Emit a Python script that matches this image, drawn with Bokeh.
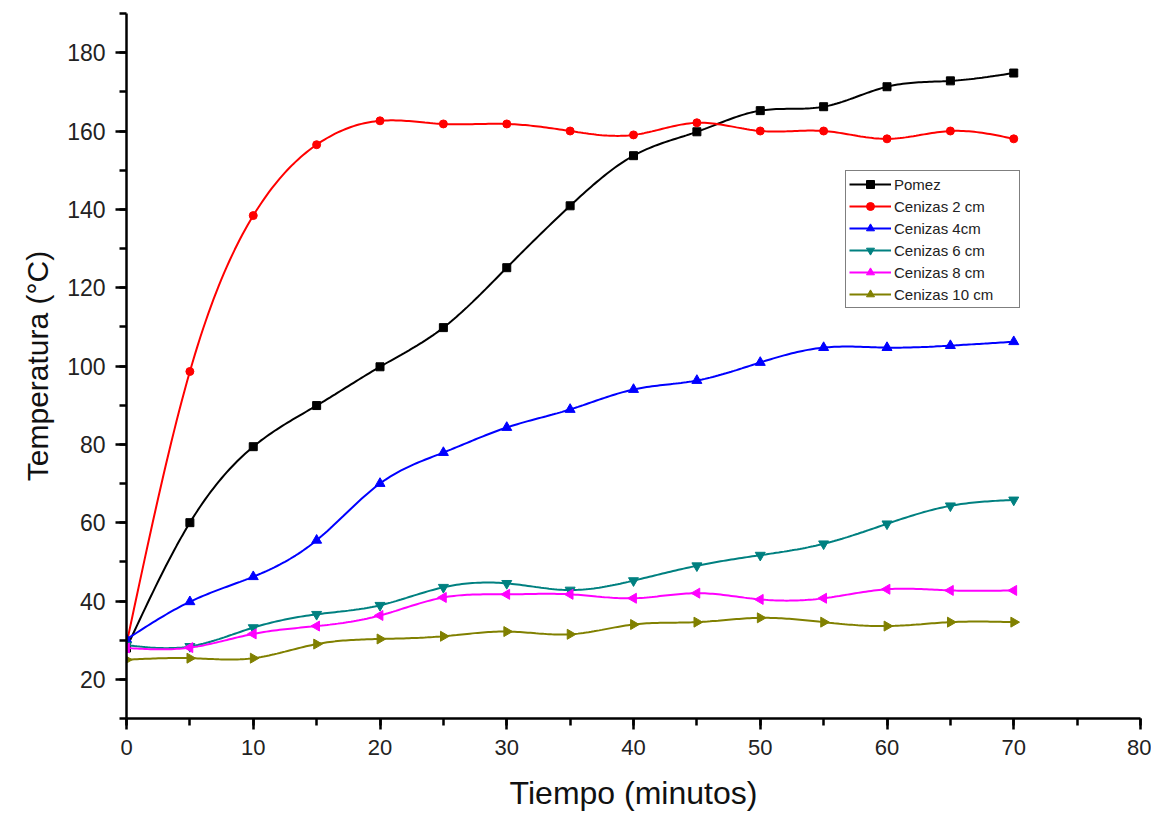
import numpy as np
from bokeh.plotting import figure
from bokeh.models import Range1d, SingleIntervalTicker, Legend, LegendItem
from bokeh.embed import file_html
from bokeh.resources import INLINE

# ---- data ----
tiempo = [0, 5, 10, 15, 20, 25, 30, 35, 40, 45, 50, 55, 60, 65, 70]
pomez = [28, 60, 79.4, 89.9, 99.8, 109.8, 125.1, 140.9, 153.7, 159.8, 165.2, 166.2, 171.3, 172.8, 174.8]
cenizas_2 = [29, 98.6, 138.4, 156.5, 162.6, 161.8, 161.8, 160.0, 159.0, 162.1, 160.0, 160.0, 158.0, 160.0, 158.0]
cenizas_4 = [30.2, 39.8, 46.2, 55.5, 70.0, 77.9, 84.3, 88.9, 94.0, 96.3, 100.9, 104.7, 104.7, 105.2, 106.2]
cenizas_6 = [28.7, 28.4, 33.2, 36.6, 38.9, 43.5, 44.5, 42.8, 45.2, 49.0, 51.7, 54.6, 59.7, 64.3, 65.8]
cenizas_8 = [28.0, 28.1, 31.6, 33.6, 36.3, 40.9, 41.7, 41.7, 40.7, 42.0, 40.4, 40.7, 43.0, 42.7, 42.7]
cenizas_10 = [25.0, 25.4, 25.4, 29.0, 30.3, 31.0, 32.2, 31.5, 34.0, 34.6, 35.7, 34.6, 33.6, 34.6, 34.6]

series_names = ["Pomez", "Cenizas 2 cm", "Cenizas 4cm", "Cenizas 6 cm", "Cenizas 8 cm", "Cenizas 10 cm"]
series_values = [pomez, cenizas_2, cenizas_4, cenizas_6, cenizas_8, cenizas_10]
colors = ["#000000", "#FF0000", "#0000FF", "#008080", "#FF00FF", "#808000"]
markers = ["square", "circle", "triangle", "inverted_triangle", "triangle", "triangle"]
angles = [0, 0, 0, 0, np.pi / 2, -np.pi / 2]
sizes = [8, 8, 10, 10, 10, 10]


def spline(x, y, n=24):
    x = np.asarray(x, float)
    y = np.asarray(y, float)
    N = len(x)
    h = np.diff(x)
    A = np.zeros((N, N))
    r = np.zeros(N)
    A[0, 0] = 1
    A[-1, -1] = 1
    for i in range(1, N - 1):
        A[i, i - 1] = h[i - 1]
        A[i, i] = 2 * (h[i - 1] + h[i])
        A[i, i + 1] = h[i]
        r[i] = 3 * ((y[i + 1] - y[i]) / h[i] - (y[i] - y[i - 1]) / h[i - 1])
    c = np.linalg.solve(A, r)
    b = (y[1:] - y[:-1]) / h - h * (2 * c[:-1] + c[1:]) / 3
    d = (c[1:] - c[:-1]) / (3 * h)
    xs, ys = [], []
    for i in range(N - 1):
        t = np.linspace(0, h[i], n, endpoint=False)
        xs.extend(x[i] + t)
        ys.extend(y[i] + b[i] * t + c[i] * t ** 2 + d[i] * t ** 3)
    xs.append(x[-1])
    ys.append(y[-1])
    return xs, ys


p = figure(width=1151, height=814, x_range=Range1d(0, 80), y_range=Range1d(10, 190),
           output_backend="svg", toolbar_location=None,
           min_border_left=126, min_border_right=11, min_border_top=13, min_border_bottom=96)
p.outline_line_color = None
p.grid.visible = False
p.background_fill_color = "white"

p.xaxis.ticker = SingleIntervalTicker(interval=10, num_minor_ticks=2)
p.yaxis.ticker = SingleIntervalTicker(interval=20, num_minor_ticks=2)
for ax in (p.xaxis, p.yaxis):
    ax.axis_line_width = 2.5
    ax.axis_line_color = "black"
    ax.major_tick_line_width = 2.5
    ax.minor_tick_line_width = 2.5
    ax.major_tick_out = 11
    ax.major_tick_in = 0
    ax.minor_tick_out = 7
    ax.minor_tick_in = 0
    ax.major_label_text_font = "Liberation Sans"
    ax.major_label_text_color = "#222222"
    ax.major_label_standoff = 10
    ax.axis_label_text_font = "Liberation Sans"
    ax.axis_label_text_font_style = "normal"
    ax.axis_label_text_color = "#111111"

p.xaxis.major_label_text_font_size = "22px"
p.yaxis.major_label_text_font_size = "23px"
p.xaxis.axis_label = "Tiempo (minutos)"
p.yaxis.axis_label = "Temperatura (°C)"
p.xaxis.axis_label_text_font_size = "32px"
p.yaxis.axis_label_text_font_size = "30px"
p.xaxis.axis_label_standoff = 17
p.yaxis.axis_label_standoff = 10

items = []
for name, vals, col, mk, ang, sz in zip(series_names, series_values, colors, markers, angles, sizes):
    sx, sy = spline(tiempo, vals)
    lr = p.line(sx, sy, line_color=col, line_width=2)
    sr = p.scatter(tiempo, vals, marker=mk, angle=ang, size=sz, fill_color=col, line_color=col)
    items.append(LegendItem(label=name, renderers=[lr, sr]))

legend = Legend(items=items, location=(719, 410))
legend.label_text_font = "Liberation Sans"
legend.label_text_font_size = "15px"
legend.label_text_color = "#222222"
legend.glyph_width = 42
legend.glyph_height = 20
legend.label_height = 20
legend.label_width = 122
legend.spacing = 2
legend.padding = 3
legend.margin = 0
legend.label_standoff = 3
legend.border_line_color = "black"
legend.border_line_width = 1
legend.background_fill_alpha = 1
p.add_layout(legend, "center")

open("out.html", "w").write(file_html(p, INLINE))
